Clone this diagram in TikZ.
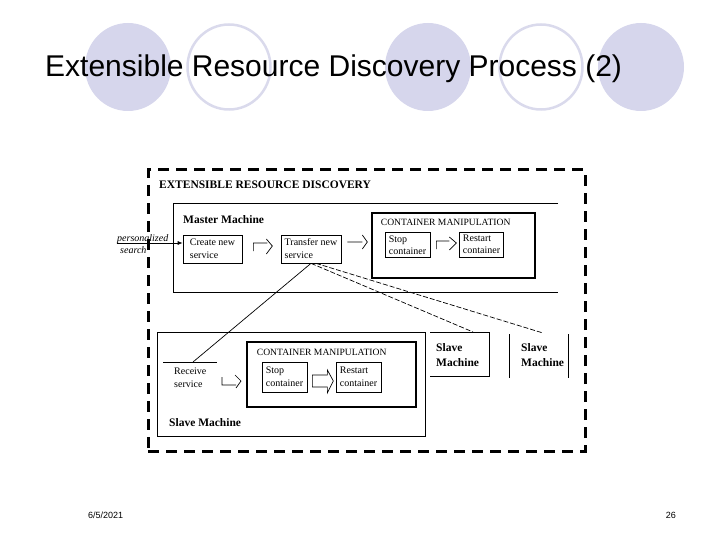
\documentclass[tikz,border=0pt]{standalone}
\usepackage{fontspec}
\setmainfont{Liberation Serif}
\newfontfamily\slidefont{Liberation Sans}
\usetikzlibrary{arrows.meta, positioning, calc}
\definecolor{lavender}{RGB}{214,214,236}
\definecolor{lavline}{RGB}{218,218,236}

\begin{document}
\begin{tikzpicture}[x=1pt, y=-1pt,
  box/.style   = {draw, line width=0.7pt, align=left, inner sep=0pt,
                  font=\fontsize{10}{13}\selectfont},
  sbox/.style  = {box, font=\fontsize{10}{11.5}\selectfont},
  cbox/.style  = {draw, line width=2.6pt, inner sep=0pt},
  lbl/.style   = {anchor=west, inner sep=0pt, align=left, font=\fontsize{10}{13}\selectfont},
  blbl/.style  = {anchor=west, inner sep=0pt, align=left, font=\bfseries\fontsize{11.5}{15}\selectfont},
  clbl/.style  = {anchor=west, inner sep=0pt, font=\fontsize{9.6}{11}\selectfont},
  ilbl/.style  = {anchor=base west, inner sep=0pt, font=\itshape\fontsize{10}{11}\selectfont},
  rule/.style  = {line width=0.7pt},
  fdash/.style = {line width=0.7pt, dash pattern=on 5pt off 2pt},
  odash/.style = {draw, line width=3pt, dash pattern=on 11pt off 7pt, inner sep=0pt},
  hook/.style  = {line width=0.7pt, line join=miter},
  parr/.style  = {-{Latex[length=5pt, width=4pt]}, line width=0.7pt},
  ring/.style  = {draw=lavline, line width=2.5pt},
]
\useasboundingbox (0,0) rectangle (720,540);

% ── Slide background ────────────────────────────────────────────────────────
\foreach \cx in {128, 428, 641}
  \fill[lavender] (\cx,67) ellipse [x radius=43, y radius=44];
\foreach \cx in {229, 541}
  \draw[ring] (\cx,67) ellipse [x radius=41.5, y radius=42.5];

\node[anchor=base west, inner sep=0pt, font=\slidefont\fontsize{30}{34}\selectfont]
  (title) at (45,77) {Extensible Resource Discovery Process (2)};
\node[anchor=base west, inner sep=0pt, font=\slidefont\fontsize{9}{11}\selectfont]
  (date) at (88,518) {6/5/2021};
\node[anchor=base east, inner sep=0pt, font=\slidefont\fontsize{9}{11}\selectfont]
  (page) at (676,518) {26};

% ── Outer frame ──────────────────────────────────────────────────────────────
\node[odash, minimum width=437, minimum height=281] (erd) at (366.5,310.5) {};
\node[anchor=west, inner sep=0pt, font=\bfseries\fontsize{11.5}{13}\selectfont]
  (erdtitle) at (159,185) {EXTENSIBLE RESOURCE DISCOVERY};

% ── Master machine ───────────────────────────────────────────────────────────
\coordinate (mtr) at (558,203);
\coordinate (mbr) at (558,292);
\draw[rule] (mtr) -- (173,203) -- (173,292) -- (mbr);
\node[blbl] (mlabel) at (183,220) {Master Machine};

\node[box, minimum width=59, minimum height=28] (create)   at (212.5,249) {Create new\\service};
\node[box, minimum width=60, minimum height=28] (transfer) at (311,249)   {Transfer new\\service};
\node[cbox, minimum width=163, minimum height=65] (mcont)  at (453.5,245.5) {};
\node[clbl] at ($(mcont.north west)+(10,11)$) {CONTAINER MANIPULATION};
\node[sbox, minimum width=45, minimum height=25] (mstop)    at (407.5,245) {Stop\\container};
\node[sbox, minimum width=44, minimum height=25] (mrestart) at (481.5,244.5) {Restart\\container};

% input request
\coordinate (psrc) at (117,243);
\draw[parr] (psrc) -- (create.west |- psrc);
\node[ilbl] (pers) at (117,241) {personalized};
\node[ilbl] (srch) at (120,254) {search};

% open block arrows
\draw[hook] ($(create.east)+(11,2)$) -- ++(0,-8) -- ++(14,0) ++(-1,-4) -- ++(6,7) -- ++(-6,8);
\draw[hook] ($(transfer.east)+(6,-7)$) -- ++(15,0) ++(0,-7) -- ++(5,7) -- ++(-5,7);
\draw[hook] ($(mstop.east)+(6,4)$) -- ++(0,-8) -- ++(13,0) ++(0,-4) -- ++(7,6) -- ++(-7,7);

% ── Slave machine (detailed) ─────────────────────────────────────────────────
\node[box, minimum width=268, minimum height=104] (slave) at (291,384) {};
\node[blbl] (slabel) at (169,423) {Slave Machine};

\coordinate (rcvL) at (163,362);
\coordinate (rcvR) at (217,362);
\coordinate (rcv)  at (193,362);
\draw[rule] (rcvL) -- (rcvR);
\node[lbl] (receive) at (174,377.5) {Receive\\service};

\node[cbox, minimum width=169, minimum height=65] (scont) at (331.5,374.5) {};
\node[clbl] at ($(scont.north west)+(11,12)$) {CONTAINER MANIPULATION};
\node[box, minimum width=45, minimum height=30] (sstop)    at (284.5,377) {Stop\\container};
\node[box, minimum width=45, minimum height=30] (srestart) at (358.5,377) {Restart\\container};

\draw[hook] ($(rcvR)+(5,15)$) -- ++(0,8) -- ++(14,0) ++(-1,-10) -- ++(6,6) -- ++(-5,7);
\draw[hook] ($(sstop.east)+(5,-2)$) -- ++(15,0) -- ++(0,-5) -- ++(6,11) -- ++(-6,12)
  -- ++(0,-6) -- ++(-15,0) -- cycle;

% ── Other slave machines ─────────────────────────────────────────────────────
\draw[rule] (430,332) -- (489,332) -- (489,376) -- (430,376);
\node[blbl] (slaveA) at (436,355.5) {Slave\\Machine};
\draw[rule] (509,334) -- (509,378);
\draw[rule] (568,334) -- (568,378);
\node[blbl] (slaveB) at (521,355.5) {Slave\\Machine};

% ── Service transfer links ───────────────────────────────────────────────────
\coordinate (sa) at (473,332);
\coordinate (sb) at (543,333);
\draw[rule]  (transfer.south) -- (rcv);
\draw[fdash] (transfer.south) -- (sa);
\draw[fdash] ($(transfer.south)+(5,0)$) -- (sb);
\end{tikzpicture}
\end{document}
